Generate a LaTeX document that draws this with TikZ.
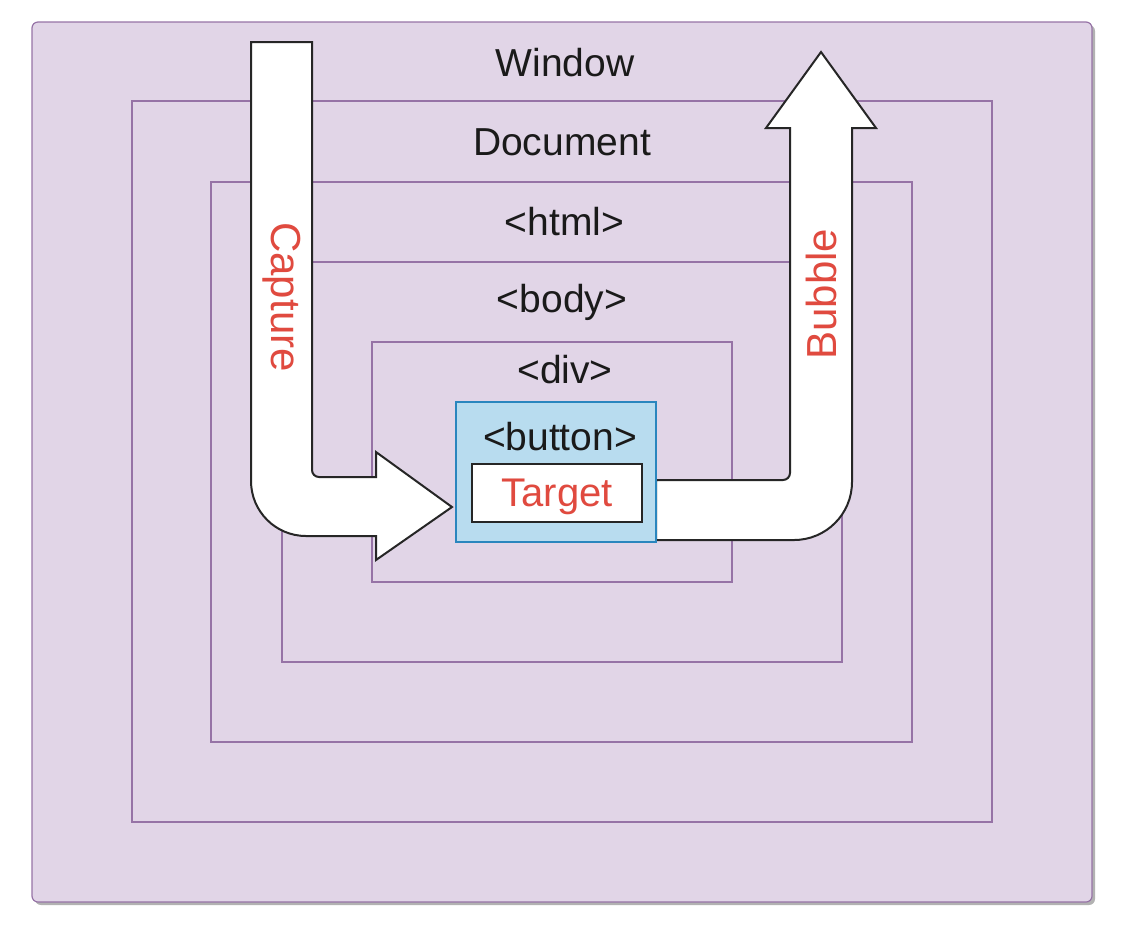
\documentclass[tikz,border=0pt]{standalone}
\usepackage{fontspec}
\setmainfont{Liberation Sans}
\usetikzlibrary{positioning}
\definecolor{winfill}{HTML}{E1D5E7}
\definecolor{winline}{HTML}{9673A6}
\definecolor{btnfill}{HTML}{B8DCEF}
\definecolor{btnline}{HTML}{2A86BE}
\definecolor{redtext}{HTML}{E04A3F}
\definecolor{darktext}{HTML}{1A1A1A}

\begin{document}
\begin{tikzpicture}[x=0.5pt,y=-0.5pt,
		frame/.style={rectangle,draw=winline,line width=0.6pt,inner sep=0pt},
		lbl/.style={font=\fontsize{19.5}{22}\selectfont,text=darktext,inner sep=0pt},
		flow/.style={font=\fontsize{21}{24}\selectfont,text=redtext,inner sep=0pt},
		blockarrow/.style={draw=black!85,fill=white,line width=1pt,line join=miter}]
		
		\useasboundingbox (0,0) rectangle (1130,934);
		
		% nested boxes
		\fill[black!30,rounded corners=3pt] (35,25) rectangle (1095,905);
		\node[frame,fill=winfill,rounded corners=3pt,minimum width=530pt,minimum height=440pt] (win) at (562,462) {};
		\node[frame,minimum width=430pt,minimum height=360.5pt] (doc) at (562,461.5) {};
		\node[frame,minimum width=350.5pt,minimum height=280pt] (html) at (561.5,462) {};
		\node[frame,minimum width=280pt,minimum height=200pt] (body) at (562,462) {};
		\node[frame,minimum width=180pt,minimum height=120pt] (div) at (552,462) {};
		
		\node[lbl] (winlbl) at ([xshift=1.5pt,yshift=-20.5pt]win.north) {Window};
		\node[lbl] (doclbl) at ([yshift=-21pt]doc.north) {Document};
		\node[lbl] (htmllbl) at ([xshift=1.5pt,yshift=-20pt]html.north) {<html>};
		\node[lbl] (bodylbl) at ([yshift=-20.5pt]body.north) {<body>};
		\node[lbl] (divlbl) at ([xshift=6.5pt,yshift=-14pt]div.north) {<div>};
		
		% capture and bubble
		\draw[blockarrow] (251,42) -- (312,42) -- (312,470)
			arc[start angle=180,end angle=270,radius=3.5pt] -- (376,477)
			-- (376,452) -- (452,507) -- (376,560) -- (376,536) -- (306,536)
			arc[start angle=270,end angle=180,radius=27.5pt] -- cycle;
		\draw[blockarrow] (656,480) -- (783,480)
			arc[start angle=270,end angle=360,radius=3.5pt] -- (790,128)
			-- (766,128) -- (821,52) -- (876,128) -- (852,128) -- (852,482)
			arc[start angle=0,end angle=-90,radius=29pt] -- (656,540) -- cycle;
		\node[flow,rotate=-90] (capture) at (282,297) {Capture};
		\node[flow,rotate=90] (bubble) at (821,294) {Bubble};
		
		% target
		\node[rectangle,draw=btnline,fill=btnfill,line width=0.6pt,minimum width=100pt,minimum height=70pt] (btn) at (556,472) {};
		\node[lbl] (btnlbl) at ([xshift=2pt,yshift=-17.5pt]btn.north) {<button>};
		\node[rectangle,draw=black!85,fill=white,line width=1pt,minimum width=85pt,minimum height=29pt,
			font=\fontsize{20}{23}\selectfont,text=redtext,inner sep=0pt,text depth=0pt] (target) at (557,493) {Target};
		\end{tikzpicture}
\end{document}
